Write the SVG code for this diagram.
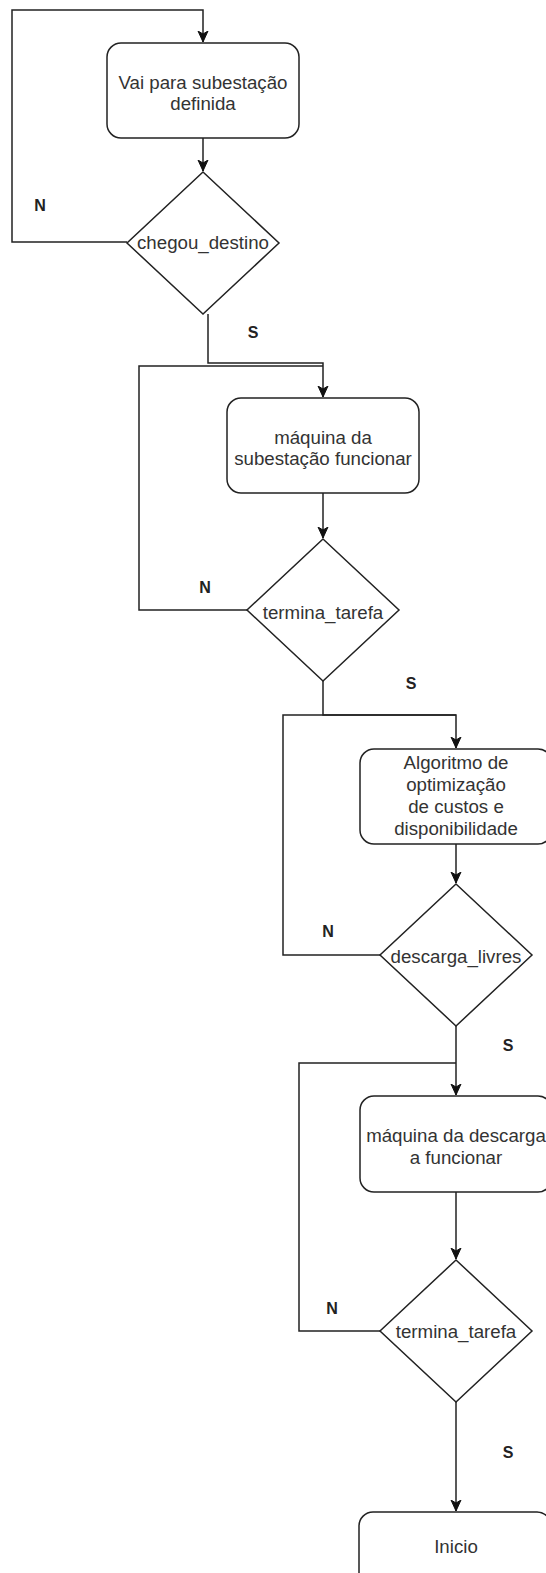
<svg xmlns="http://www.w3.org/2000/svg" width="546" height="1573" viewBox="0 0 546 1573">
  <defs>
    <marker id="arrow" viewBox="0 0 12 12" refX="11" refY="6" markerWidth="12" markerHeight="12" markerUnits="userSpaceOnUse" orient="auto">
      <path d="M0,1 L11,6 L0,11 L3,6 Z" fill="#111" stroke="#111" stroke-width="1"/>
    </marker>
    <style>
      .shape { fill: #fff; stroke: #222; stroke-width: 1.5; }
      .edge { fill: none; stroke: #222; stroke-width: 1.5; }
      .txt { font-family: "Liberation Sans", Arial, sans-serif; font-size: 18.7px; fill: #333; text-anchor: middle; }
      .lbl { font-family: "Liberation Sans", Arial, sans-serif; font-size: 16px; font-weight: bold; fill: #222; text-anchor: middle; }
    </style>
  </defs>
  <rect width="546" height="1573" fill="#fff"/>

  <g id="connectors">
    <path class="edge" d="M127,242 H12 V10 H203 V42" marker-end="url(#arrow)"/>
    <path class="edge" d="M203,138 V171" marker-end="url(#arrow)"/>
    <path class="edge" d="M208,314 V363 H323 V397" marker-end="url(#arrow)"/>
    <path class="edge" d="M248,610 H139 V366 H323"/>
    <path class="edge" d="M323,493 V538" marker-end="url(#arrow)"/>
    <path class="edge" d="M323,681 V715 H456 V748" marker-end="url(#arrow)"/>
    <path class="edge" d="M380,955 H283 V715 H456"/>
    <path class="edge" d="M456,844 V883" marker-end="url(#arrow)"/>
    <path class="edge" d="M456,1026 V1095" marker-end="url(#arrow)"/>
    <path class="edge" d="M380,1331 H299 V1063 H456"/>
    <path class="edge" d="M456,1192 V1259" marker-end="url(#arrow)"/>
    <path class="edge" d="M456,1402 V1511" marker-end="url(#arrow)"/>
  </g>

  <g id="lbl-n1"><text class="lbl" x="40" y="211">N</text></g>
  <g id="lbl-s1"><text class="lbl" x="253" y="338">S</text></g>
  <g id="lbl-n2"><text class="lbl" x="205" y="593">N</text></g>
  <g id="lbl-s2"><text class="lbl" x="411" y="689">S</text></g>
  <g id="lbl-n3"><text class="lbl" x="328" y="937">N</text></g>
  <g id="lbl-s3"><text class="lbl" x="508" y="1051">S</text></g>
  <g id="lbl-n4"><text class="lbl" x="332" y="1314">N</text></g>
  <g id="lbl-s4"><text class="lbl" x="508" y="1458">S</text></g>

  <g id="vai-subestacao">
    <rect class="shape" x="107" y="43" width="192" height="95" rx="14"/>
    <text class="txt" x="203" y="89">Vai para subestação</text>
    <text class="txt" x="203" y="110">definida</text>
  </g>

  <g id="chegou-destino">
    <polygon class="shape" points="203,172 279,243 203,314 127,243"/>
    <text class="txt" x="203" y="249">chegou_destino</text>
  </g>

  <g id="maquina-subestacao">
    <rect class="shape" x="227" y="398" width="192" height="95" rx="14"/>
    <text class="txt" x="323" y="444">máquina da</text>
    <text class="txt" x="323" y="465">subestação funcionar</text>
  </g>

  <g id="termina-tarefa-1">
    <polygon class="shape" points="323,539 399,610 323,681 247,610"/>
    <text class="txt" x="323" y="619">termina_tarefa</text>
  </g>

  <g id="algoritmo">
    <rect class="shape" x="360" y="749" width="192" height="95" rx="14"/>
    <text class="txt" x="456" y="769">Algoritmo de</text>
    <text class="txt" x="456" y="791">optimização</text>
    <text class="txt" x="456" y="813">de custos e</text>
    <text class="txt" x="456" y="835">disponibilidade</text>
  </g>

  <g id="descarga-livres">
    <polygon class="shape" points="456,884 532,955 456,1026 380,955"/>
    <text class="txt" x="456" y="963">descarga_livres</text>
  </g>

  <g id="maquina-descarga">
    <rect class="shape" x="360" y="1096" width="192" height="96" rx="14"/>
    <text class="txt" x="456" y="1142">máquina da descarga</text>
    <text class="txt" x="456" y="1164">a funcionar</text>
  </g>

  <g id="termina-tarefa-2">
    <polygon class="shape" points="456,1260 532,1331 456,1402 380,1331"/>
    <text class="txt" x="456" y="1338">termina_tarefa</text>
  </g>

  <g id="inicio">
    <rect class="shape" x="359" y="1512" width="192" height="95" rx="14"/>
    <text class="txt" x="456" y="1553">Inicio</text>
  </g>
</svg>
